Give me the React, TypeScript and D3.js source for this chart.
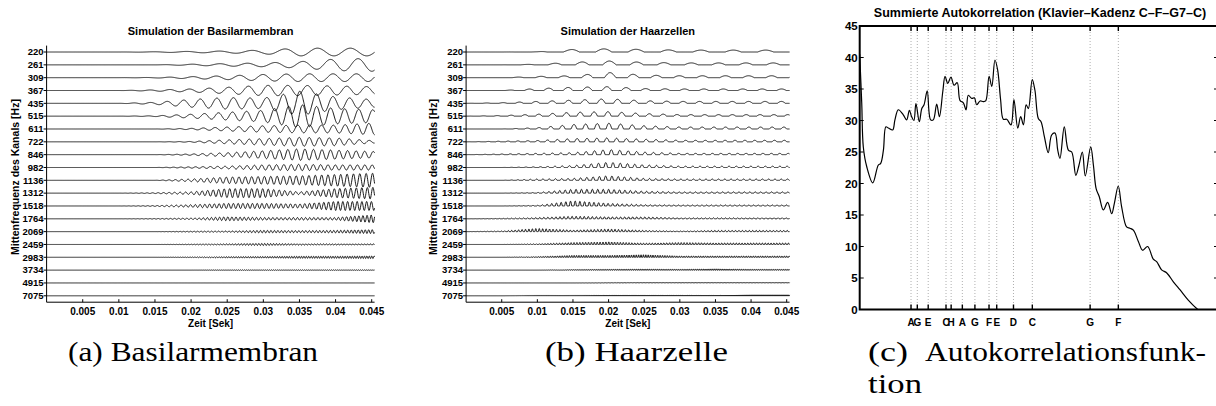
import { useEffect, useRef } from 'react';
import * as d3 from 'd3';

// channel centre frequencies (Hz), top to bottom
const channels = [220, 261, 309, 367, 435, 515, 611, 722, 846, 982, 1136, 1312, 1518, 1764, 2069, 2459, 2983, 3734, 4915, 7075];

// envelope, in units of channel spacing, at these times (s)
const envTimes = [0, 0.005, 0.01, 0.015, 0.02, 0.025, 0.03, 0.035, 0.04, 0.045];

const basilarEnv = [
  [0, 0, 0, 0.02, 0.05, 0.08, 0.15, 0.3, 0.3, 0.3],
  [0, 0, 0, 0, 0.05, 0.1, 0.15, 0.25, 0.45, 0.5],
  [0, 0, 0, 0.02, 0.08, 0.15, 0.25, 0.3, 0.3, 0.3],
  [0, 0, 0, 0.05, 0.12, 0.25, 0.4, 0.4, 0.35, 0.3],
  [0, 0, 0, 0.08, 0.3, 0.45, 0.4, 0.95, 0.5, 0.3],
  [0, 0, 0, 0.03, 0.15, 0.3, 0.45, 0.9, 0.6, 0.5],
  [0, 0, 0, 0, 0.05, 0.15, 0.25, 0.3, 0.3, 0.45],
  [0, 0, 0, 0, 0.03, 0.15, 0.25, 0.35, 0.3, 0.1],
  [0, 0, 0, 0, 0.05, 0.15, 0.3, 0.45, 0.35, 0.25],
  [0, 0, 0, 0, 0.05, 0.1, 0.2, 0.25, 0.2, 0.2],
  [0, 0, 0, 0, 0.1, 0.25, 0.3, 0.35, 0.45, 0.55],
  [0, 0, 0, 0.03, 0.1, 0.35, 0.35, 0.1, 0.35, 0.45],
  [0, 0, 0, 0.03, 0.1, 0.2, 0.2, 0.15, 0.35, 0.35],
  [0, 0, 0, 0.02, 0.05, 0.15, 0.1, 0.1, 0.1, 0.3],
  [0, 0, 0, 0, 0.03, 0.05, 0.1, 0.08, 0.1, 0.15],
  [0, 0, 0, 0, 0.02, 0.05, 0.08, 0.05, 0.05, 0.05],
  [0, 0, 0, 0, 0.02, 0.05, 0.06, 0.08, 0.08, 0.1],
  [0, 0, 0, 0, 0, 0.02, 0.02, 0.02, 0.02, 0.02],
  [0, 0, 0, 0, 0, 0, 0, 0, 0, 0],
  [0, 0, 0, 0, 0, 0, 0, 0, 0, 0],
];

const haarEnv = [
  [0, 0, 0.02, 0.2, 0.25, 0.2, 0.15, 0.15, 0.15, 0.15],
  [0, 0, 0.05, 0.2, 0.3, 0.2, 0.15, 0.15, 0.15, 0.15],
  [0, 0, 0.1, 0.15, 0.4, 0.2, 0.15, 0.15, 0.15, 0.15],
  [0, 0, 0.15, 0.25, 0.3, 0.15, 0.12, 0.12, 0.12, 0.12],
  [0, 0.05, 0.15, 0.25, 0.35, 0.2, 0.15, 0.15, 0.15, 0.15],
  [0, 0.05, 0.15, 0.3, 0.35, 0.2, 0.12, 0.12, 0.12, 0.12],
  [0, 0, 0.1, 0.35, 0.45, 0.25, 0.15, 0.15, 0.15, 0.15],
  [0, 0.05, 0.1, 0.25, 0.3, 0.2, 0.12, 0.12, 0.12, 0.12],
  [0, 0.05, 0.1, 0.15, 0.4, 0.2, 0.1, 0.1, 0.1, 0.1],
  [0, 0, 0.05, 0.15, 0.4, 0.2, 0.1, 0.1, 0.1, 0.1],
  [0, 0, 0.1, 0.15, 0.35, 0.15, 0.1, 0.1, 0.1, 0.1],
  [0, 0, 0.05, 0.3, 0.3, 0.15, 0.1, 0.1, 0.1, 0.1],
  [0, 0, 0.05, 0.4, 0.2, 0.1, 0.08, 0.08, 0.08, 0.08],
  [0, 0.03, 0.1, 0.2, 0.15, 0.15, 0.08, 0.08, 0.08, 0.08],
  [0, 0.05, 0.25, 0.12, 0.2, 0.1, 0.05, 0.1, 0.1, 0.1],
  [0, 0, 0.05, 0.15, 0.2, 0.1, 0.15, 0.12, 0.12, 0.12],
  [0, 0, 0.05, 0.15, 0.15, 0.2, 0.1, 0.1, 0.1, 0.1],
  [0, 0, 0, 0.04, 0.06, 0.08, 0.06, 0.1, 0.06, 0.06],
  [0, 0, 0, 0, 0.02, 0.03, 0.03, 0.03, 0.03, 0.03],
  [0, 0, 0.03, 0.03, 0.05, 0.05, 0.05, 0.05, 0.07, 0.07],
];

const timeTicks = [0.005, 0.01, 0.015, 0.02, 0.025, 0.03, 0.035, 0.04, 0.045];

// summed autocorrelation: [lag in ms, value]
const acPoints: [number, number][] = [
  [0, 40.5], [0.09, 32.8], [0.16, 25.8], [0.31, 22.7], [0.58, 20.1], [0.82, 22.9], [0.93, 23.2],
  [1.05, 25.3], [1.16, 29.0], [1.27, 28.8], [1.46, 28.5], [1.56, 30.1], [1.71, 31.7], [1.93, 30.9],
  [2.08, 30.1], [2.2, 31.6], [2.3, 30.6], [2.4, 30.0], [2.49, 32.7], [2.64, 29.8], [2.75, 31.9],
  [2.85, 32.5], [2.99, 34.7], [3.14, 30.1], [3.26, 30.1], [3.41, 32.6], [3.53, 30.6], [3.68, 34.6],
  [3.78, 37.0], [3.9, 35.9], [4.04, 36.9], [4.18, 35.6], [4.32, 36.0], [4.44, 33.2], [4.59, 32.8],
  [4.71, 31.7], [4.81, 34.0], [4.96, 33.5], [5.08, 33.6], [5.18, 32.5], [5.33, 33.1], [5.47, 33.0],
  [5.58, 33.1], [5.73, 37.0], [5.85, 35.4], [5.99, 39.6], [6.11, 38.0], [6.24, 33.3], [6.36, 30.2],
  [6.51, 30.2], [6.7, 29.3], [6.83, 33.3], [7.0, 28.8], [7.13, 30.6], [7.25, 29.3], [7.37, 32.5],
  [7.47, 31.9], [7.64, 36.5], [7.76, 34.8], [7.91, 30.3], [8.03, 29.8], [8.18, 27.4], [8.35, 24.9],
  [8.5, 27.7], [8.65, 28.0], [8.77, 25.3], [8.87, 24.0], [9.06, 29.0], [9.24, 25.3], [9.39, 25.0],
  [9.57, 21.3], [9.71, 22.9], [9.86, 25.0], [9.99, 21.2], [10.23, 25.8], [10.35, 22.9], [10.47, 19.2],
  [10.61, 17.9], [10.79, 15.8], [10.98, 17.0], [11.16, 15.2], [11.28, 16.9], [11.45, 19.6], [11.6, 16.3],
  [11.82, 13.1], [11.97, 12.9], [12.12, 12.6], [12.34, 10.8], [12.53, 9.4], [12.75, 10.0], [13.0, 8.0],
  [13.15, 7.6], [13.37, 6.3], [13.6, 5.8], [13.89, 4.4], [14.19, 3.1], [14.55, 1.5], [14.97, 0.0],
  [15.5, -1.5],
];

const acTicks = [0, 5, 10, 15, 20, 25, 30, 35, 40, 45];
const noteNames = ['A', 'G', 'E', 'C', 'H', 'A', 'G', 'F', 'E', 'D', 'C', 'G', 'F'];
const noteFreqs = [440, 392, 329.63, 261.63, 246.94, 220, 196, 174.61, 164.81, 146.83, 130.81, 98, 87.31];

const SANS = '"Liberation Sans", Arial, Helvetica, sans-serif';
const SERIF = '"Liberation Serif", "DejaVu Serif", "Times New Roman", serif';

function drawWaves(svg, opts) {
  const { xRange, title, env, rectify, yLabelX } = opts;
  const tEnd = 0.0454;
  const x = d3.scaleLinear().domain([0, 0.045]).range(xRange);
  const y = d3.scaleLinear().domain([0.5, 20.5]).range([45.6, 302.2]);
  const spacing = y(2) - y(1);
  const g = svg.append('g');

  channels.forEach((f, i) => {
    const envScale = d3.scaleLinear().domain(envTimes).range(env[i]).clamp(true);
    const y0 = y(i + 1);
    const dt = Math.min(0.00004, 1 / (f * 12));
    const n = Math.ceil(tEnd / dt);
    const pts = d3.range(n + 1).map(k => {
      const t = Math.min(k * dt, tEnd);
      let s = Math.sin(2 * Math.PI * f * t);
      if (rectify) s = Math.max(0, s);
      return [x(t), y0 - envScale(t) * spacing * s];
    });
    g.append('path')
      .attr('d', d3.line()(pts))
      .attr('fill', 'none')
      .attr('stroke', '#000')
      .attr('stroke-width', 0.9);
  });

  // axes
  g.append('line')
    .attr('x1', xRange[0]).attr('x2', xRange[0])
    .attr('y1', y(0.5)).attr('y2', y(20.5))
    .attr('stroke', '#000');
  g.append('line')
    .attr('x1', xRange[0]).attr('x2', x(tEnd))
    .attr('y1', y(20.5)).attr('y2', y(20.5))
    .attr('stroke', '#000');

  channels.forEach((f, i) => {
    g.append('line')
      .attr('x1', xRange[0] - 3).attr('x2', xRange[0])
      .attr('y1', y(i + 1)).attr('y2', y(i + 1))
      .attr('stroke', '#000');
    g.append('text')
      .attr('x', xRange[0] - 3)
      .attr('y', y(i + 1))
      .attr('dy', '0.35em')
      .attr('text-anchor', 'end')
      .style('font', `bold 9.5px ${SANS}`)
      .text(f);
  });

  timeTicks.forEach(t => {
    g.append('line')
      .attr('x1', x(t)).attr('x2', x(t))
      .attr('y1', y(20.5)).attr('y2', y(20.5) - 3)
      .attr('stroke', '#000');
    g.append('text')
      .attr('x', x(t))
      .attr('y', 315)
      .attr('text-anchor', 'middle')
      .style('font', `bold 10px ${SANS}`)
      .text(String(t));
  });

  const cx = (xRange[0] + x(tEnd)) / 2;
  g.append('text')
    .attr('x', cx).attr('y', 35)
    .attr('text-anchor', 'middle')
    .style('font', `bold 11px ${SANS}`)
    .text(title);
  g.append('text')
    .attr('x', cx).attr('y', 327)
    .attr('text-anchor', 'middle')
    .style('font', `bold 10px ${SANS}`)
    .text('Zeit [Sek]');
  g.append('text')
    .attr('transform', `translate(${yLabelX},177) rotate(-90)`)
    .attr('text-anchor', 'middle')
    .style('font', `bold 10.5px ${SANS}`)
    .text('Mittenfrequenz des Kanals [Hz]');
}

function drawAuto(svg) {
  const x = d3.scaleLinear().domain([0, 16]).range([859.7, 1221]);
  const y = d3.scaleLinear().domain([0, 45]).range([309.5, 26]);
  const g = svg.append('g');

  g.append('clipPath').attr('id', 'acclip')
    .append('rect')
    .attr('x', x(0)).attr('y', y(45))
    .attr('width', x(16) - x(0)).attr('height', y(0) - y(45));

  // note period lines
  noteFreqs.forEach(f => {
    const xv = x(1000 / f);
    g.append('line')
      .attr('x1', xv).attr('x2', xv)
      .attr('y1', y(45)).attr('y2', y(0))
      .attr('stroke', '#9a9a9a')
      .attr('stroke-width', 0.8)
      .attr('stroke-dasharray', '1,2');
  });

  const line = d3.line<[number, number]>()
    .x(d => x(d[0]))
    .y(d => y(d[1]))
    .curve(d3.curveCatmullRom.alpha(0.5));
  g.append('path')
    .attr('d', line(acPoints))
    .attr('clip-path', 'url(#acclip)')
    .attr('fill', 'none')
    .attr('stroke', '#000')
    .attr('stroke-width', 1.2);

  // frame
  g.append('path')
    .attr('d', `M${x(16)},${y(45)}H${x(0)}V${y(0)}H${x(16)}V${y(45)}`)
    .attr('fill', 'none')
    .attr('stroke', '#000')
    .attr('stroke-width', 2);

  acTicks.forEach(v => {
    g.append('line')
      .attr('x1', x(0)).attr('x2', x(0) + 4)
      .attr('y1', y(v)).attr('y2', y(v))
      .attr('stroke', '#000');
    g.append('line')
      .attr('x1', x(16) - 7).attr('x2', x(16))
      .attr('y1', y(v)).attr('y2', y(v))
      .attr('stroke', '#000');
    g.append('text')
      .attr('x', x(0) - 2)
      .attr('y', y(v))
      .attr('dy', '0.36em')
      .attr('text-anchor', 'end')
      .style('font', `bold 11.5px ${SANS}`)
      .text(v);
  });

  noteFreqs.forEach((f, i) => {
    const xv = x(1000 / f);
    g.append('line')
      .attr('x1', xv).attr('x2', xv)
      .attr('y1', y(0)).attr('y2', y(0) - 5)
      .attr('stroke', '#000').attr('stroke-width', 1.4);
    g.append('line')
      .attr('x1', xv).attr('x2', xv)
      .attr('y1', y(45)).attr('y2', y(45) + 5)
      .attr('stroke', '#000').attr('stroke-width', 1.4);
    g.append('text')
      .attr('x', xv)
      .attr('y', 326)
      .attr('text-anchor', 'middle')
      .style('font', `bold 10px ${SANS}`)
      .text(noteNames[i]);
  });

  g.append('text')
    .attr('x', 1040).attr('y', 17)
    .attr('text-anchor', 'middle')
    .style('font', `bold 12.5px ${SANS}`)
    .text('Summierte Autokorrelation (Klavier–Kadenz C–F–G7–C)');
}

function drawCaptions(svg) {
  const cap = (x, y, w, s) => svg.append('text')
    .attr('x', x).attr('y', y)
    .attr('textLength', w)
    .attr('lengthAdjust', 'spacingAndGlyphs')
    .attr('font-family', SERIF)
    .attr('font-size', 28)
    .attr('fill', '#000')
    .text(s);
  cap(68, 361, 250, '(a) Basilarmembran');
  cap(545, 361, 183, '(b) Haarzelle');
  cap(868, 361, 40, '(c)');
  cap(925, 361, 281, 'Autokorrelationsfunk-');
  cap(868, 393, 54, 'tion');
}

export default function App() {
  const ref = useRef<SVGSVGElement>(null);

  useEffect(() => {
    const svg = d3.select(ref.current);
    svg.selectAll('*').remove();
    drawWaves(svg, { xRange: [46.6, 371.7], title: 'Simulation der Basilarmembran', env: basilarEnv, rectify: false, yLabelX: 18.5 });
    drawWaves(svg, { xRange: [466.1, 786.7], title: 'Simulation der Haarzellen', env: haarEnv, rectify: true, yLabelX: 437 });
    drawAuto(svg);
    drawCaptions(svg);
  }, []);

  return (
    <svg ref={ref} width={1216} height={406} style={{ position: 'absolute', left: 0, top: 0, background: '#fff' }} />
  );
}
